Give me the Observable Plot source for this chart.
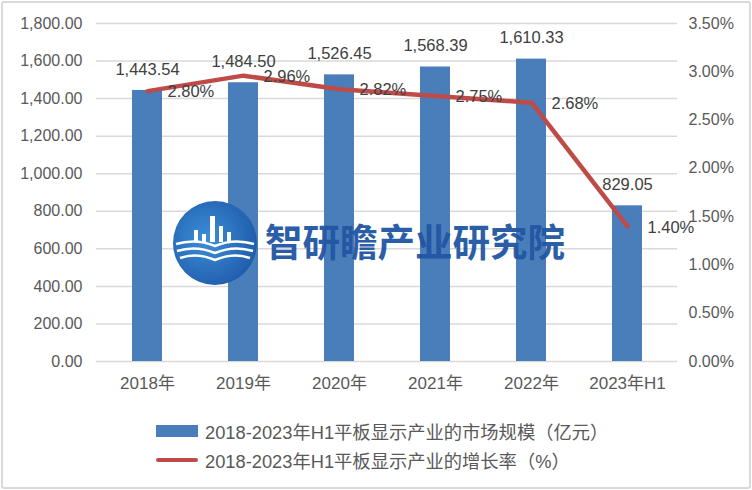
<!DOCTYPE html>
<html>
<head>
<meta charset="utf-8">
<script src="https://cdn.jsdelivr.net/npm/d3@7"></script>
<script src="https://cdn.jsdelivr.net/npm/@observablehq/plot@0.6"></script>
<style>
  html, body { margin: 0; padding: 0; background: #fff; }
  #wrap { position: relative; width: 752px; height: 490px; overflow: hidden; font-family: "Liberation Sans", "Noto Sans CJK SC", sans-serif; }
  #frame { position: absolute; left: 1px; top: 1px; width: 746px; height: 484px; border: 2px solid #d9d9d9; border-radius: 3px; pointer-events: none; }
  #legend { position: absolute; left: 0; top: 416px; width: 752px; font-size: 18.3px; color: #595959; }
  .row { position: absolute; left: 156px; height: 22px; display: flex; align-items: center; white-space: nowrap; }
  .sw { width: 42px; margin-right: 7px; }
  #wm { position: absolute; left: 172px; top: 200px; width: 420px; height: 90px; pointer-events: none; }
</style>
</head>
<body>
<div id="wrap">
  <div id="chart"></div>
  <div id="legend"></div>
  <div id="wm"></div>
  <div id="frame"></div>
</div>
<script>
const categories = ["2018年", "2019年", "2020年", "2021年", "2022年", "2023年H1"];
const marketSize = [1443.54, 1484.50, 1526.45, 1568.39, 1610.33, 829.05];
const growthRate = [2.80, 2.96, 2.82, 2.75, 2.68, 1.40];
const leftTicks = [0, 200, 400, 600, 800, 1000, 1200, 1400, 1600, 1800];
const rightTicks = [0, 0.5, 1.0, 1.5, 2.0, 2.5, 3.0, 3.5];
const seriesNames = ["2018-2023年H1平板显示产业的市场规模（亿元）", "2018-2023年H1平板显示产业的增长率（%）"];

const leftMax = 1800, rightMax = 3.5;
const k = leftMax / rightMax;
const data = categories.map((c, i) => ({cat: c, size: marketSize[i], rate: growthRate[i], rateScaled: growthRate[i] * k}));

const blue = "#4a7ebb", red = "#be4b48";
const font = "Liberation Sans, Noto Sans CJK SC, sans-serif";

const chart = Plot.plot({
  width: 752,
  height: 400,
  marginTop: 23,
  marginBottom: 39,
  marginLeft: 96,
  marginRight: 75,
  style: {fontFamily: font, fontSize: "16px", color: "#595959", background: "transparent", overflow: "visible"},
  x: {domain: categories, type: "band", paddingInner: 0.69, paddingOuter: 0.345, label: null},
  y: {domain: [0, leftMax], label: null},
  marks: [
    Plot.ruleY(leftTicks, {stroke: "#d9d9d9", strokeWidth: 1.5}),
    Plot.axisY({anchor: "left", ticks: leftTicks, tickSize: 0, tickPadding: 14, tickFormat: d3.format(",.2f"), label: null, fill: "#595959", fontSize: 16}),
    Plot.axisY({anchor: "right", ticks: rightTicks.map(r => r * k), tickSize: 0, tickPadding: 11, tickFormat: d => (d / k).toFixed(2) + "%", label: null, fill: "#595959", fontSize: 16}),
    Plot.axisX({tickSize: 0, tickPadding: 15, label: null, fill: "#595959", fontSize: 17}),
    Plot.barY(data, {x: "cat", y: "size", fill: blue}),
    Plot.lineY(data, {x: "cat", y: "rateScaled", stroke: red, strokeWidth: 4.5, strokeLinejoin: "round"}),
    Plot.text(data, {x: "cat", y: "size", text: d => d3.format(",.2f")(d.size), dy: -21, fill: "#404040", fontSize: 16.5}),
    Plot.text(data, {x: "cat", y: "rateScaled", text: d => d.rate.toFixed(2) + "%", dx: 20, dy: 1, textAnchor: "start", fill: "#404040", fontSize: 16.5})
  ]
});
document.getElementById("chart").appendChild(chart);

// legend
const legend = document.getElementById("legend");
seriesNames.forEach((name, i) => {
  const row = document.createElement("div");
  row.className = "row";
  row.style.top = (i * 29 + 4) + "px";
  const sw = document.createElement("div");
  sw.className = "sw";
  if (i === 0) { sw.style.height = "12px"; sw.style.background = blue; }
  else { sw.style.height = "4px"; sw.style.background = red; sw.style.borderRadius = "2px"; }
  const t = document.createElement("span");
  t.textContent = name;
  row.appendChild(sw); row.appendChild(t);
  legend.appendChild(row);
});

// watermark
document.getElementById("wm").innerHTML = `
<svg width="420" height="90" xmlns="http://www.w3.org/2000/svg">
  <defs>
    <radialGradient id="g" cx="0.4" cy="0.45" r="0.7">
      <stop offset="0" stop-color="#3d8fd8"/>
      <stop offset="1" stop-color="#1c56a6"/>
    </radialGradient>
  </defs>
  <circle cx="43" cy="43" r="42" fill="url(#g)"/>
  <g fill="#fff">
    <rect x="22" y="30" width="4" height="12"/>
    <rect x="30" y="34" width="4" height="8"/>
    <rect x="38" y="16" width="5" height="26"/>
    <rect x="47" y="26" width="4" height="16"/>
    <rect x="55" y="32" width="4" height="10"/>
  </g>
  <g fill="none" stroke="#fff" stroke-width="2.5">
    <path d="M4,44 Q24,38 43,46 Q62,38 82,44"/>
    <path d="M5,51 Q24,45 43,53 Q62,45 81,51"/>
    <path d="M8,58 Q25,52 43,60 Q61,52 78,58"/>
  </g>
  <text x="93" y="56" font-family="Noto Sans CJK SC" font-weight="bold" font-size="37.5" fill="#2156a3" opacity="0.95">智研瞻产业研究院</text>
</svg>`;
</script>
</body>
</html>
